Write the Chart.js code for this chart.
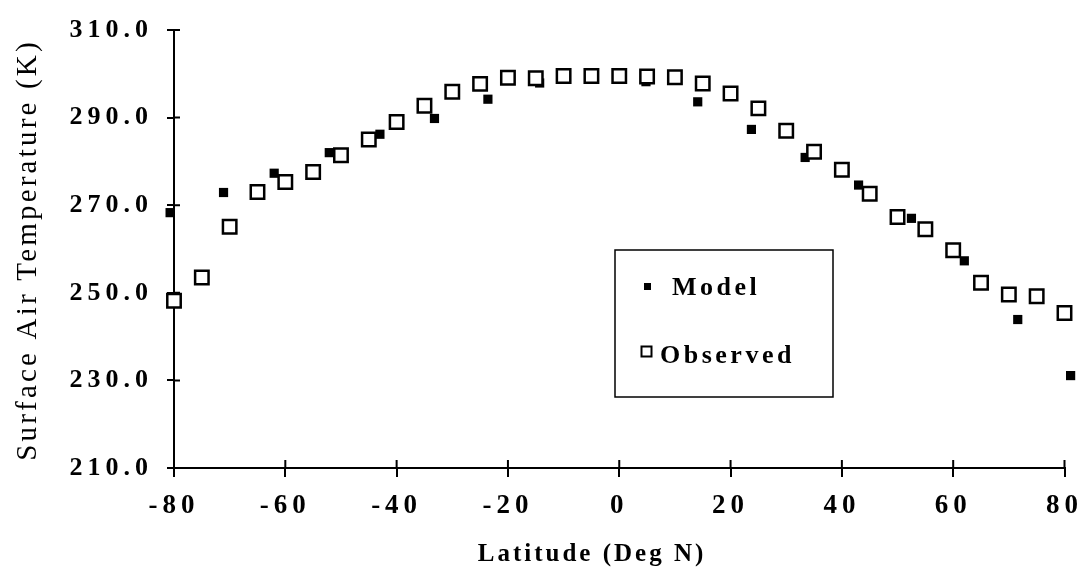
<!DOCTYPE html>
<html>
<head>
<meta charset="utf-8">
<script src="https://cdn.jsdelivr.net/npm/chart.js@4.4.1/dist/chart.umd.min.js"></script>
<style>
    html, body { margin: 0; padding: 0; background: #fff; }
</style>
</head>
<body>
<canvas id="temperature_chart" width="1091" height="572"></canvas>
<script>
// values
var observed_lat = [-80, -75, -70, -65, -60, -55, -50, -45, -40, -35, -30, -25, -20, -15, -10, -5, 0,
    5, 10, 15, 20, 25, 30, 35, 40, 45, 50, 55, 60, 65, 70, 75, 80];
var observed_temp = [248.2, 253.5, 265.1, 273.0, 275.3, 277.6, 281.4, 285.0, 289.0, 292.7, 295.9, 297.7, 299.1, 299.0, 299.5, 299.5, 299.5,
    299.4, 299.2, 297.8, 295.5, 292.1, 287.0, 282.2, 278.1, 272.6, 267.3, 264.5, 259.7, 252.3, 249.6, 249.2, 245.4];

var model_lat = [-80.7, -71.1, -62.0, -52.1, -43.0, -33.2, -23.6, -14.3, -4.8, 4.8, 14.1, 23.75, 33.4, 43.0, 52.5, 62.0, 71.6, 81.1];
var model_temp = [268.3, 272.9, 277.3, 282.0, 286.2, 289.8, 294.2, 297.9, 299.3, 298.2, 293.6, 287.3, 280.9, 274.6, 267.0, 257.3, 243.9, 231.1];

var x_ticks = [-80, -60, -40, -20, 0, 20, 40, 60, 80];
var y_ticks = [210, 230, 250, 270, 290, 310];

var x_title = 'Latitude (Deg N)';
var y_title = 'Surface Air Temperature (K)';

var serif = '"Liberation Serif", "Times New Roman", serif';

function to_points(xs, ys) {
    var pts = [];
    for (var i = 0; i < xs.length; i++) {
        pts.push({ x: xs[i], y: ys[i] });
    }
    return pts;
}

// letter spacing for tick labels, titles and the boxed legend
var figure_plugin = {
    id: 'figure_plugin',
    beforeDraw: function (chart) {
        chart.ctx.letterSpacing = '5px';
    },
    afterDraw: function (chart) {
        var ctx = chart.ctx;
        var area = chart.chartArea;
        var xs = chart.scales.x;
        var ys = chart.scales.y;

        ctx.save();
        ctx.strokeStyle = '#000';
        ctx.fillStyle = '#000';
        ctx.lineWidth = 2;

        // inner half of the crossing tick marks
        ctx.beginPath();
        for (var i = 0; i < y_ticks.length; i++) {
            var py = ys.getPixelForValue(y_ticks[i]);
            ctx.moveTo(area.left, py);
            ctx.lineTo(area.left + 6, py);
        }
        for (var j = 0; j < x_ticks.length; j++) {
            var px = xs.getPixelForValue(x_ticks[j]);
            ctx.moveTo(px, area.bottom);
            ctx.lineTo(px, area.bottom - 8);
        }
        ctx.stroke();

        // axis titles
        ctx.letterSpacing = '3px';
        ctx.textBaseline = 'alphabetic';
        ctx.textAlign = 'center';
        ctx.font = 'bold 25px ' + serif;
        ctx.fillText(x_title, 592, 561);

        ctx.save();
        ctx.translate(36, 252);
        ctx.rotate(-Math.PI / 2);
        ctx.letterSpacing = '3.2px';
        ctx.font = '29px ' + serif;
        ctx.fillText(y_title, 2, 0);
        ctx.restore();

        // legend box
        var sets = chart.data.datasets;
        ctx.lineWidth = 1.5;
        ctx.strokeRect(615, 250, 218, 147);

        ctx.fillRect(644, 283, 7, 7);
        ctx.lineWidth = 2;
        ctx.strokeRect(641.5, 346.5, 10, 10);

        ctx.letterSpacing = '3.5px';
        ctx.textAlign = 'left';
        ctx.font = 'bold 26px ' + serif;
        ctx.fillText(sets[0].label, 672, 295);
        ctx.fillText(sets[1].label, 660, 363);
        ctx.restore();
    }
};

var temperature_chart = new Chart(document.getElementById('temperature_chart').getContext('2d'), {
    type: 'scatter',
    data: {
        datasets: [{
            label: 'Model',
            data: to_points(model_lat, model_temp),
            pointStyle: 'rect',
            pointRadius: 6.5,
            backgroundColor: '#000',
            borderColor: '#000',
            borderWidth: 0,
            clip: false,
            order: 2
        }, {
            label: 'Observed',
            data: to_points(observed_lat, observed_temp),
            pointStyle: 'rect',
            pointRadius: 9.5,
            backgroundColor: '#fff',
            borderColor: '#000',
            borderWidth: 2.5,
            clip: false,
            order: 1
        }]
    },
    options: {
        responsive: false,
        animation: false,
        devicePixelRatio: 1,
        layout: {
            padding: { left: 0, top: 30, right: 21, bottom: 0 }
        },
        plugins: {
            legend: { display: false },
            tooltip: { enabled: false }
        },
        scales: {
            x: {
                type: 'linear',
                min: -80,
                max: 80,
                afterBuildTicks: function (scale) {
                    scale.ticks = x_ticks.map(function (v) { return { value: v }; });
                },
                afterFit: function (scale) {
                    scale.height = 104;
                },
                ticks: {
                    color: '#000',
                    padding: 13,
                    maxRotation: 0,
                    font: { family: serif, size: 27, weight: 'bold' }
                },
                grid: {
                    drawOnChartArea: false,
                    drawTicks: true,
                    tickLength: 9,
                    color: '#000',
                    lineWidth: 2
                },
                border: { display: true, color: '#000', width: 2 }
            },
            y: {
                min: 210,
                max: 310,
                afterBuildTicks: function (scale) {
                    scale.ticks = y_ticks.map(function (v) { return { value: v }; });
                },
                afterFit: function (scale) {
                    scale.width = 174;
                },
                ticks: {
                    color: '#000',
                    padding: 14,
                    font: { family: serif, size: 26, weight: 'bold' },
                    callback: function (value) {
                        return value.toFixed(1);
                    }
                },
                grid: {
                    drawOnChartArea: false,
                    drawTicks: true,
                    tickLength: 7,
                    color: '#000',
                    lineWidth: 2
                },
                border: { display: true, color: '#000', width: 2 }
            }
        }
    },
    plugins: [figure_plugin]
});
</script>
</body>
</html>
